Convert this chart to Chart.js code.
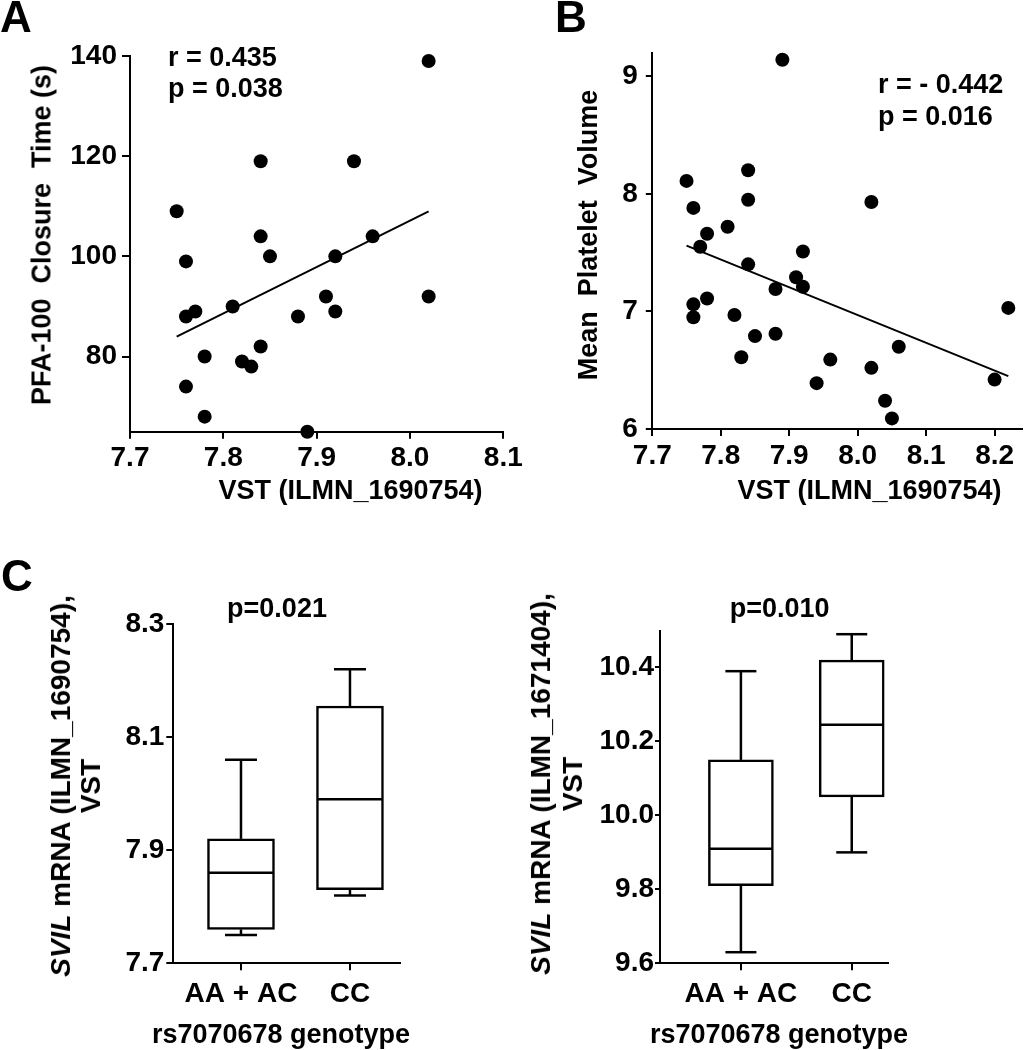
<!DOCTYPE html>
<html><head><meta charset="utf-8">
<script src="https://cdn.jsdelivr.net/npm/chart.js@4.4.1/dist/chart.umd.min.js"></script>
<style>
html,body{margin:0;padding:0;background:#fff;width:1028px;height:1050px;overflow:hidden;}
body{position:relative;}
canvas{position:absolute;}
.t{position:absolute;font-family:'Liberation Sans',Arial,sans-serif;font-weight:bold;color:#000;white-space:pre;}
</style></head><body>
<canvas id="cA" width="530" height="480" style="left:0;top:0"></canvas>
<canvas id="cB" width="488" height="480" style="left:540px;top:0"></canvas>
<canvas id="cC1" width="440" height="470" style="left:0;top:580px"></canvas>
<canvas id="cC2" width="508" height="470" style="left:520px;top:580px"></canvas>
<script>
// ---------- data ----------
const aVst = [8.02,7.84,7.94,7.75,7.84,7.96,7.76,7.85,7.92,7.91,8.02,7.81,7.76,7.77,7.88,7.92,7.84,7.78,7.82,7.83,7.76,7.78,7.89];
const aPfa = [139,119,119,109,104,104,99,100,100,92,92,90,88,89,88,89,82,80,79,78,74,68,65];
const aFitX = [7.75, 8.02];
const aFitY = [84, 109];
const bVst = [7.89,7.75,7.84,7.84,7.76,8.02,7.81,7.78,7.77,7.92,7.84,7.91,7.92,7.88,7.78,7.76,7.76,7.82,8.22,7.88,7.85,8.06,7.83,7.96,8.02,8.20,7.94,8.04,8.05];
const bMpv = [9.14,8.11,8.20,7.95,7.88,7.93,7.72,7.66,7.55,7.51,7.40,7.29,7.21,7.19,7.11,7.06,6.95,6.97,7.03,6.81,6.79,6.70,6.61,6.59,6.52,6.42,6.39,6.24,6.09];
const bFitX = [7.75, 8.22];
const bFitY = [7.56, 6.45];
const genotypes = ['AA + AC', 'CC'];
const c1Min = [7.75, 7.82];
const c1Q1  = [7.76, 7.83];
const c1Med = [7.86, 7.99];
const c1Q3  = [7.92, 8.155];
const c1Max = [8.06, 8.22];
const c2Min = [9.63, 9.90];
const c2Q1  = [9.81, 10.05];
const c2Med = [9.91, 10.245];
const c2Q3  = [10.15, 10.42];
const c2Max = [10.39, 10.49];
const aYTicks = [80, 100, 120, 140];
const aXTicks = [7.7, 7.8, 7.9, 8.0, 8.1];
const bYTicks = [6, 7, 8, 9];
const bXTicks = [7.7, 7.8, 7.9, 8.0, 8.1, 8.2];
const c1YTicks = [7.7, 7.9, 8.1, 8.3];
const c2YTicks = [9.6, 9.8, 10.0, 10.2, 10.4];
const catTicks = [1, 2];

// ---------- helpers ----------
const FONT = "'Liberation Sans', Arial, sans-serif";
const TICK_SIZE = 28;
function axis(o) {
  return {
    type: 'linear', min: o.min, max: o.max, offset: false,
    afterBuildTicks: s => { s.ticks = o.ticks.map(v => ({ value: v })); },
    afterFit: s => { if (o.isX) s.height = o.size; else s.width = o.size; },
    border: { display: true, color: '#000', width: 2 },
    grid: { display: true, offset: false, drawOnChartArea: false, drawTicks: true,
            tickLength: o.tickLen, tickWidth: 2, tickColor: '#000', color: '#000', lineWidth: 2 },
    ticks: { color: '#000', padding: o.pad, autoSkip: false, maxRotation: 0, minRotation: 0,
             font: { family: FONT, size: TICK_SIZE, weight: 'bold' }, callback: o.fmt }
  };
}
function baseOpts(pad, xs, ys, extraPlugins) {
  return {
    responsive: false, animation: false,
    layout: { padding: pad, autoPadding: false },
    plugins: Object.assign({ legend: { display: false }, tooltip: { enabled: false }, title: { display: false } }, extraPlugins || {}),
    scales: { x: xs, y: ys }
  };
}
const f1 = v => Number(v).toFixed(1);
const f0 = v => String(v);

function scatterChart(id, xs, ys, fx, fy, radius, pad, xAxis, yAxis) {
  return new Chart(document.getElementById(id), {
    type: 'scatter',
    data: { datasets: [
      { type: 'scatter', data: xs.map((x, i) => ({ x, y: ys[i] })), pointRadius: radius,
        pointBackgroundColor: '#000', pointBorderWidth: 0, clip: false, order: 1 },
      { type: 'line', data: fx.map((x, i) => ({ x, y: fy[i] })), borderColor: '#000', borderWidth: 2,
        pointRadius: 0, fill: false, tension: 0, clip: false, order: 2 }
    ] },
    options: baseOpts(pad, xAxis, yAxis)
  });
}

// box whiskers / median plugin (uses chart scales)
const boxPlugin = {
  id: 'boxWhisk',
  afterDatasetsDraw(chart, args, o) {
    if (!o || !o.stats) return;
    const { ctx } = chart; const xs = chart.scales.x, ys = chart.scales.y; const s = o.stats;
    ctx.save(); ctx.strokeStyle = '#000'; ctx.lineWidth = o.lw; ctx.lineCap = 'butt';
    const seg = (x1, y1, x2, y2) => { ctx.beginPath(); ctx.moveTo(x1, y1); ctx.lineTo(x2, y2); ctx.stroke(); };
    s.med.forEach((m, i) => {
      const px = xs.getPixelForValue(catTicks[i]);
      const yMin = ys.getPixelForValue(s.min[i]), yQ1 = ys.getPixelForValue(s.q1[i]);
      const yMed = ys.getPixelForValue(m), yQ3 = ys.getPixelForValue(s.q3[i]), yMax = ys.getPixelForValue(s.max[i]);
      seg(px, yQ3, px, yMax); seg(px, yQ1, px, yMin);
      seg(px - o.cap / 2, yMax, px + o.cap / 2, yMax);
      seg(px - o.cap / 2, yMin, px + o.cap / 2, yMin);
      seg(px - o.box / 2 + 1, yMed, px + o.box / 2 - 1, yMed);
    });
    ctx.restore();
  }
};
Chart.register(boxPlugin);

function boxChart(id, mn, q1, md, q3, mx, boxW, capW, pad, xAxis, yAxis) {
  return new Chart(document.getElementById(id), {
    type: 'bar',
    data: { datasets: [
      { data: genotypes.map((g, i) => ({ x: catTicks[i], y: [q1[i], q3[i]] })),
        backgroundColor: '#fff', borderColor: '#000', borderWidth: 2.5, borderSkipped: false,
        barThickness: boxW, grouped: false }
    ] },
    options: baseOpts(pad, xAxis, yAxis, { boxWhisk: { stats: { min: mn, q1: q1, med: md, q3: q3, max: mx }, lw: 2.5, cap: capW, box: boxW } })
  });
}

// Panel A: chart area 130..503.3 x 56..431.7 (canvas 530x480 at 0,0)
scatterChart('cA', aVst, aPfa, aFitX, aFitY, 7,
  { left: 0, top: 56, right: 26.7, bottom: 0 },
  axis({ isX: true, min: 7.7, max: 8.1, ticks: aXTicks, fmt: f1, size: 48.3, tickLen: 7, pad: 3 }),
  axis({ min: 65, max: 140, ticks: aYTicks, fmt: f0, size: 130, tickLen: 8, pad: 5 }));

// Panel B: chart area 652.3..1022 x 52.7..429 (canvas 488x480 at 540,0)
scatterChart('cB', bVst, bMpv, bFitX, bFitY, 7,
  { left: 0, top: 52.7, right: 6, bottom: 0 },
  axis({ isX: true, min: 7.7, max: 8.24, ticks: bXTicks, fmt: f1, size: 51, tickLen: 7, pad: 3 }),
  axis({ min: 6, max: 9.2, ticks: bYTicks, fmt: f0, size: 112.3, tickLen: 6.5, pad: 8 }));

// Panel C left: chart area 173.3..400 x 624..963.3 (canvas 440x470 at 0,580)
boxChart('cC1', c1Min, c1Q1, c1Med, c1Q3, c1Max, 67, 32,
  { left: 0, top: 44, right: 40, bottom: 0 },
  axis({ isX: true, min: 0.379, max: 2.459, ticks: catTicks, fmt: v => genotypes[v - 1], size: 86.7, tickLen: 7, pad: 7 }),
  axis({ min: 7.7, max: 8.3, ticks: c1YTicks, fmt: f1, size: 173.3, tickLen: 7, pad: 2 }));

// Panel C right: chart area 660..888.3 x 630.5..963.3 (canvas 508x470 at 520,580)
boxChart('cC2', c2Min, c2Q1, c2Med, c2Q3, c2Max, 65, 31,
  { left: 0, top: 50.5, right: 139.7, bottom: 0 },
  axis({ isX: true, min: 0.27, max: 2.33, ticks: catTicks, fmt: v => genotypes[v - 1], size: 86.7, tickLen: 7, pad: 7 }),
  axis({ min: 9.6, max: 10.5, ticks: c2YTicks, fmt: f1, size: 140, tickLen: 5, pad: 1 }));

// ---------- text ----------
function txt(html, size, x, baseline, align) {
  const d = document.createElement('div');
  d.className = 't';
  d.innerHTML = html;
  d.style.fontSize = size + 'px';
  d.style.lineHeight = size + 'px';
  d.style.top = (baseline - 0.8465 * size) + 'px';
  d.style.left = x + 'px';
  if (align === 'center') d.style.transform = 'translateX(-50%)';
  document.body.appendChild(d);
}
function vtxt(html, size, cx, cy, lh) {
  const d = document.createElement('div');
  d.className = 't';
  d.innerHTML = html;
  d.style.fontSize = size + 'px';
  d.style.lineHeight = lh + 'px';
  d.style.textAlign = 'center';
  d.style.left = cx + 'px';
  d.style.top = cy + 'px';
  d.style.transform = 'translate(-50%,-50%) rotate(-90deg)';
  document.body.appendChild(d);
}
txt('A', 44, 0, 32);
txt('B', 44, 555, 32);
txt('C', 44, 1, 591);
txt('r = 0.435', 27, 168, 66.5);
txt('p = 0.038', 27, 168, 98);
txt('r = - 0.442', 27, 878, 94);
txt('p = 0.016', 27, 878, 126);
txt('VST (ILMN_1690754)', 27, 350.5, 500, 'center');
txt('VST (ILMN_1690754)', 27, 869.5, 500, 'center');
vtxt('PFA-100  Closure  Time (s)', 27, 41.7, 235, 27);
vtxt('Mean  Platelet  Volume', 27, 588.3, 235, 27);
vtxt('<i>SVIL</i> mRNA (ILMN_1690754),\nVST', 28, 75.8, 786, 30);
vtxt('<i>SVIL</i> mRNA (ILMN_1671404),\nVST', 28, 557, 784, 32);
txt('p=0.021', 27, 277, 618, 'center');
txt('p=0.010', 27, 779.7, 618, 'center');
txt('rs7070678 genotype', 27, 281, 1044, 'center');
txt('rs7070678 genotype', 27, 779, 1044, 'center');
</script>
</body></html>
